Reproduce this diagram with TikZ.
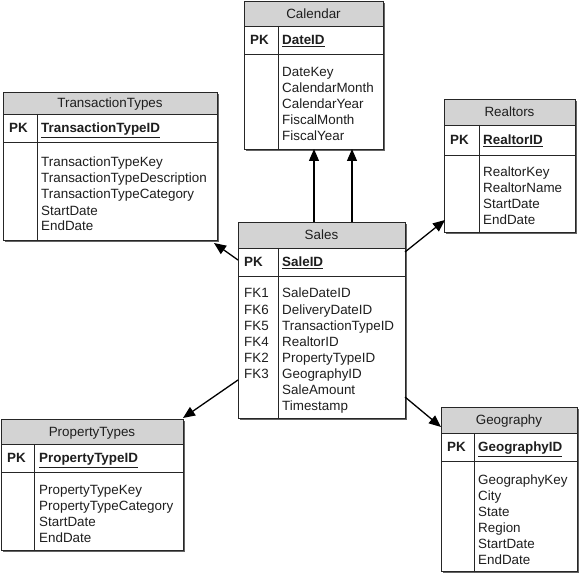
\documentclass[tikz,border=0pt]{standalone}
\usepackage{fontspec}
\setmainfont{Liberation Sans}
\usetikzlibrary{arrows.meta,calc}
\definecolor{hdr}{RGB}{211,211,211}
\definecolor{shad}{RGB}{100,100,100}
\definecolor{txt}{RGB}{30,30,30}
\tikzset{
  frame/.style={draw=black!85,line width=0.9pt},
  tbl/.style={rectangle,inner sep=0pt,outer sep=0pt},
  ttl/.style={inner sep=0pt,anchor=base,text=txt,font=\fontsize{13.4}{16}\selectfont},
  pkk/.style={inner sep=0pt,anchor=base west,text=txt,font=\fontsize{13.4}{16}\selectfont\bfseries},
  fld/.style={inner sep=0pt,anchor=base west,text=txt,font=\fontsize{13.4}{16}\selectfont},
  fk/.style={draw=black,line width=1.3pt,-{Triangle[length=12pt,width=10pt]}},
}
% #1 name #2 L #3 T #4 R #5 B #6 header bottom #7 pk bottom #8 divider #9 title
\newcommand\erdbox[9]{%
  \fill[shad] (#2+2,#3+2) rectangle (#4+2,#5+2);
  \node[tbl,fill=white,minimum width=#4-#2,minimum height=#5-#3,anchor=north west] (#1) at (#2,#3) {};
  \fill[hdr] (#2,#3) rectangle (#4,#6);
  \draw[frame] (#2,#3) rectangle (#4,#5);
  \draw[frame] (#2,#6) -- (#4,#6);
  \draw[frame] (#2,#7) -- (#4,#7);
  \draw[frame] (#8,#6) -- (#8,#5);
  \node[ttl] (#1-t) at ({(#2+#4)/2},{(#3+#6)/2+4.6}) {#9};
  \node[pkk] (#1-pk) at (#2+6,{(#6+#7)/2+4.6}) {PK};
}
% #1 name #2 x #3 y baseline #4 text
\newcommand\erdpk[4]{%
  \node[pkk] (#1-id) at (#2,#3) {\underline{#4}};
}
\newcommand\erdlines[4]{%
  \foreach \t [count=\i] in {#4} {
    \node[fld] (#1-f\i) at (#2,{#3+16*(\i-1)}) {\t};
  }
}
\newcommand\erdkeys[4]{%
  \foreach \t [count=\i] in {#4} {
    \node[fld] (#1-k\i) at (#2,{#3+16*(\i-1)}) {\t};
  }
}
\begin{document}
\begin{tikzpicture}[x=1pt,y=-1pt]
\useasboundingbox (0,0) rectangle (579,575);
% Calendar
\erdbox{cal}{244}{1}{383}{149}{26}{54}{278}{Calendar}
\erdpk{cal}{282}{44.6}{DateID}
\erdlines{cal}{282}{77}{DateKey,CalendarMonth,CalendarYear,FiscalMonth,FiscalYear}
% TransactionTypes
\erdbox{tt}{3}{92}{217}{240}{114}{142}{37}{TransactionTypes}
\erdpk{tt}{41}{132.6}{TransactionTypeID}
\erdlines{tt}{41}{167}{TransactionTypeKey,TransactionTypeDescription,TransactionTypeCategory,StartDate,EndDate}
% Realtors
\erdbox{real}{444}{99}{575}{232}{125}{155}{479}{Realtors}
\erdpk{real}{483}{144.6}{RealtorID}
\erdlines{real}{483}{177}{RealtorKey,RealtorName,StartDate,EndDate}
% Sales
\erdbox{sales}{238}{222}{405}{418}{248}{276}{278}{Sales}
\erdpk{sales}{282}{266.6}{SaleID}
\erdkeys{sales}{244}{298}{FK1,FK6,FK5,FK4,FK2,FK3}
\erdlines{sales}{282}{298}{SaleDateID,DeliveryDateID,TransactionTypeID,RealtorID,PropertyTypeID,GeographyID,SaleAmount,Timestamp}
% PropertyTypes
\erdbox{pt}{1}{419}{183}{550}{444}{472}{34}{PropertyTypes}
\erdpk{pt}{39}{462.6}{PropertyTypeID}
\erdlines{pt}{39}{494}{PropertyTypeKey,PropertyTypeCategory,StartDate,EndDate}
% Geography
\erdbox{geo}{441}{407}{577}{571}{433}{461}{474}{Geography}
\erdpk{geo}{478}{451.6}{GeographyID}
\erdlines{geo}{478}{484}{GeographyKey,City,State,Region,StartDate,EndDate}
% connectors
\draw[fk] ($(sales.north west)+(76,0)$) coordinate (s1) -- (s1 |- cal.south);
\draw[fk] ($(sales.north west)+(114,0)$) coordinate (s2) -- (s2 |- cal.south);
\draw[fk] ($(sales.north west)+(0,38)$) -- ($(tt.south east)+(-3,3)$);
\draw[fk] ($(sales.north east)+(0,30)$) -- ($(real.south west)+(1,-12)$);
\draw[fk] ($(sales.north west)+(0,158)$) -- ($(pt.north east)+(0,-1)$);
\draw[fk] ($(sales.north east)+(0,175)$) -- ($(geo.north west)+(0,20)$);
\end{tikzpicture}
\end{document}
